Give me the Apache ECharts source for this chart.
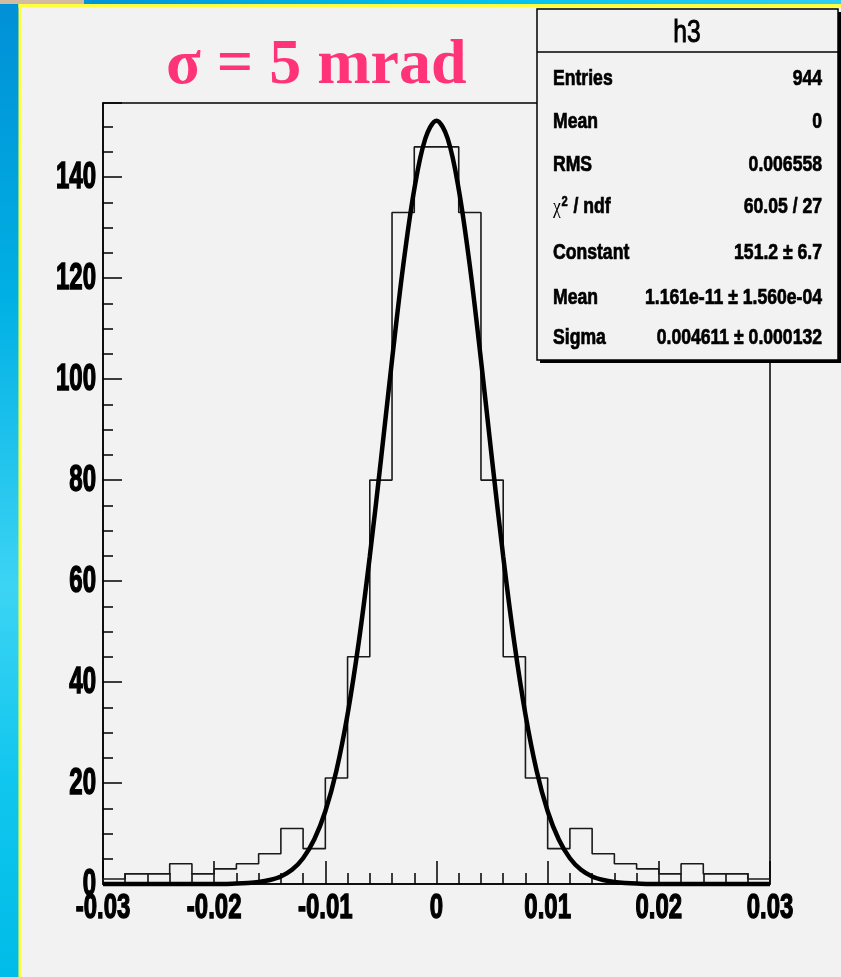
<!DOCTYPE html>
<html>
<head>
<meta charset="utf-8">
<script src="https://cdn.jsdelivr.net/npm/echarts@6/dist/echarts.min.js"></script>
<style>
html,body{margin:0;padding:0;background:#f2f2f2;}
#chart{width:841px;height:977px;}
</style>
</head>
<body>
<div id="chart"></div>
<script>
// ---- data ----
const binEdges = [-0.030,-0.028,-0.026,-0.024,-0.022,-0.020,-0.018,-0.016,-0.014,-0.012,-0.010,-0.008,-0.006,-0.004,-0.002,0.000,
                   0.002,0.004,0.006,0.008,0.010,0.012,0.014,0.016,0.018,0.020,0.022,0.024,0.026,0.028,0.030];
const binCounts = [1,2,2,4,2,3,4,6,11,7,21,45,80,133,146,146,133,80,45,21,7,11,6,4,3,2,4,2,2,1];

const fitX = [-0.030,-0.025,-0.020,-0.018,-0.017,-0.016,-0.015,-0.014,-0.013,-0.012,-0.011,-0.010,-0.009,-0.008,-0.007,-0.006,-0.005,-0.004,-0.003,-0.002,-0.001,0.000,
              0.001,0.002,0.003,0.004,0.005,0.006,0.007,0.008,0.009,0.010,0.011,0.012,0.013,0.014,0.015,0.016,0.017,0.018,0.020,0.025,0.030];
const fitY = [0,0,0,0.1,0.2,0.4,0.8,1.5,2.8,5.1,8.8,14.4,22.5,33.6,47.8,64.9,84.0,103.8,122.4,137.6,147.7,151.2,
              147.7,137.6,122.4,103.8,84.0,64.9,47.8,33.6,22.5,14.4,8.8,5.1,2.8,1.5,0.8,0.4,0.2,0.1,0,0,0];

const xTickValues = [-0.03,-0.02,-0.01,0,0.01,0.02,0.03];
const xTickLabels = ['-0.03','-0.02','-0.01','0','0.01','0.02','0.03'];
const yTickValues = [0,20,40,60,80,100,120,140];
const yTickLabels = ['0','20','40','60','80','100','120','140'];

const titleText = 'σ = 5 mrad';
const statsTitle = 'h3';
const statsLabels = ['Entries','Mean','RMS','CHI','Constant','Mean','Sigma'];
const statsValues = ['944','0','0.006558','60.05 / 27','151.2 ± 6.7','1.161e-11 ± 1.560e-04','0.004611 ± 0.000132'];

// ---- chart ----
const SANS = '"Liberation Sans",Arial,sans-serif';
const chart = echarts.init(document.getElementById('chart'));

// histogram outline as a step path built from the bins
const stepData = [[binEdges[0], 0]];
binCounts.forEach((c, i) => stepData.push([binEdges[i], c]));
stepData.push([binEdges[binEdges.length - 1], binCounts[binCounts.length - 1]]);
stepData.push([binEdges[binEdges.length - 1], 0]);

const fitData = fitX.map((x, i) => [x, fitY[i]]);

const option = {
  backgroundColor: '#f2f2f2',
  animation: false,
  grid: {left:103, right:71, top:103, bottom:93, show:true, borderColor:'#000', borderWidth:1.5, backgroundColor:'transparent'},
  xAxis: {
    type:'value', min:-0.03, max:0.03, interval:0.01,
    axisLine:{show:true, onZero:false, lineStyle:{color:'#000', width:1.5}},
    axisTick:{show:true, inside:true, length:23, lineStyle:{color:'#000', width:1.5}},
    minorTick:{show:true, splitNumber:5, length:11, lineStyle:{color:'#000', width:1.5}},
    splitLine:{show:false},
    axisLabel:{show:false}
  },
  yAxis: [{
    type:'value', min:0, max:154.7, interval:20, position:'left',
    axisLine:{show:true, onZero:false, lineStyle:{color:'#000', width:1.5}},
    axisTick:{show:true, inside:true, length:19, lineStyle:{color:'#000', width:1.5}},
    splitLine:{show:false},
    axisLabel:{show:false}
  }, {
    type:'value', min:0, max:154.7, interval:5, position:'left',
    axisLine:{show:false, onZero:false},
    axisTick:{show:true, inside:true, length:10, lineStyle:{color:'#000', width:1.5}},
    splitLine:{show:false},
    axisLabel:{show:false}
  }],
  series: [{
    type:'line', data: stepData, step:'end', symbol:'none',
    lineStyle:{color:'#1a1a1a', width:1.6}, z:2
  }, {
    type:'line', data: fitData, smooth:0.35, symbol:'none', clip:false,
    lineStyle:{color:'#000', width:4.5}, z:3
  }]
};
chart.setOption(option);

// ---- decorations, tick labels (placed with the axes' own scales), stats box ----
const g = [];
g.push({type:'rect', z:1, shape:{x:0, y:4, width:19, height:973}, style:{fill:new echarts.graphic.LinearGradient(0,0,0,1,[
  {offset:0, color:'#0090d6'},{offset:0.3, color:'#00b0e4'},{offset:0.6, color:'#3cd4f4'},{offset:0.8, color:'#10c6ee'},{offset:1, color:'#00bce8'}])}});
g.push({type:'rect', z:1, shape:{x:84, y:0, width:757, height:4}, style:{fill:new echarts.graphic.LinearGradient(0,0,1,0,[
  {offset:0, color:'#0094d8'},{offset:0.5, color:'#00c0ee'},{offset:1, color:'#30cdf0'}])}});
g.push({type:'rect', z:1, shape:{x:0, y:0, width:84, height:4}, style:{fill:'#d4bca0'}});
g.push({type:'rect', z:1, shape:{x:18.5, y:4, width:3, height:973}, style:{fill:'#ffff40'}});
g.push({type:'rect', z:1, shape:{x:18.5, y:4, width:823, height:3.5}, style:{fill:'#ffff40'}});
g.push({type:'text', z:10, x:166, y:66, style:{text:titleText, font:'bold 64px "Liberation Serif","Times New Roman",serif', fill:'#ff3377', textAlign:'left', textVerticalAlign:'middle'}});

const axisY0 = chart.convertToPixel({yAxisIndex:0}, 0);
xTickValues.forEach((v, i) => {
  const px = chart.convertToPixel({xAxisIndex:0}, v);
  g.push({type:'text', z:10, x:px, y:axisY0 + 24, scaleX:0.8, scaleY:1.15,
    style:{text:xTickLabels[i], font:'bold 30px ' + SANS, fill:'#000', stroke:'#000', lineWidth:1.2, textAlign:'center', textVerticalAlign:'middle'}});
});
const axisX0 = chart.convertToPixel({xAxisIndex:0}, -0.03);
yTickValues.forEach((v, i) => {
  const py = chart.convertToPixel({yAxisIndex:0}, v);
  g.push({type:'text', z:10, x:axisX0 - 7, y:py + 1, scaleX:0.8, scaleY:1.2,
    style:{text:yTickLabels[i], font:'bold 30px ' + SANS, fill:'#000', stroke:'#000', lineWidth:1.2, textAlign:'right', textVerticalAlign:'middle'}});
});

const rowY = [79, 122, 165, 207, 253, 298, 338];
g.push({type:'rect', z:100, shape:{x:540, y:12, width:301, height:351}, style:{fill:'#000'}});
g.push({type:'rect', z:101, shape:{x:537, y:9, width:301, height:351}, style:{fill:'#f2f2f2', stroke:'#000', lineWidth:1.5}});
g.push({type:'line', z:102, shape:{x1:537, y1:52, x2:838, y2:52}, style:{stroke:'#000', lineWidth:1.5}});
g.push({type:'text', z:102, x:687, y:33, scaleX:0.82, scaleY:1.05, style:{text:statsTitle, font:'30px ' + SANS, fill:'#000', stroke:'#000', lineWidth:0.9, textAlign:'center', textVerticalAlign:'middle'}});
statsLabels.forEach((lab, i) => {
  if (lab === 'CHI') {
    g.push({type:'text', z:102, x:553, y:rowY[i], scaleX:0.8, style:{
      text:'{c|χ}{s|2}{n| / ndf}', textAlign:'left', textVerticalAlign:'middle', fill:'#000',
      rich:{
        c:{font:'22px "Liberation Serif",serif', fill:'#000'},
        s:{font:'bold 14px ' + SANS, fill:'#000', stroke:'#000', lineWidth:0.5, padding:[0,1,10,1]},
        n:{font:'bold 22px ' + SANS, fill:'#000', stroke:'#000', lineWidth:0.7}
      }
    }});
  } else {
    g.push({type:'text', z:102, x:553, y:rowY[i], scaleX:0.8, style:{text:lab, font:'bold 22px ' + SANS, fill:'#000', stroke:'#000', lineWidth:0.7, textAlign:'left', textVerticalAlign:'middle'}});
  }
  g.push({type:'text', z:102, x:822, y:rowY[i], scaleX:0.8, style:{text:statsValues[i], font:'bold 22px ' + SANS, fill:'#000', stroke:'#000', lineWidth:0.7, textAlign:'right', textVerticalAlign:'middle'}});
});
chart.setOption({graphic: g});
</script>
</body>
</html>
